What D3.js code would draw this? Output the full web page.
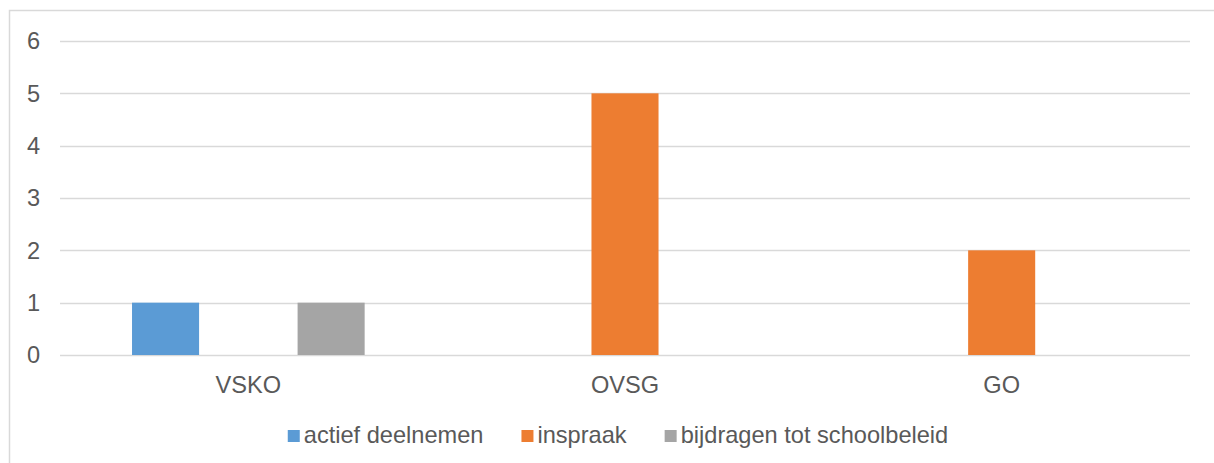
<!DOCTYPE html>
<html lang="nl">
<head>
    <meta charset="UTF-8">
    <title>Chart</title>
    <style>
        body {
            margin: 0;
            padding: 0;
            overflow: hidden;
            background: #fff;
        }

        text {
            font-family: "Liberation Sans", Arial, sans-serif;
            fill: #595959;
        }
    </style>
</head>
<body>
<svg id="chart" width="1214" height="463"></svg>
<script src="https://cdn.jsdelivr.net/npm/d3@7"></script>
<script>
    // data
    const categories = ["VSKO", "OVSG", "GO"];
    const seriesNames = ["actief deelnemen", "inspraak", "bijdragen tot schoolbeleid"];
    const actiefDeelnemen = [1, 0, 0];
    const inspraak = [0, 5, 2];
    const bijdragen = [1, 0, 0];
    const yTicks = [0, 1, 2, 3, 4, 5, 6];
    const colors = ["#5B9BD5", "#ED7D31", "#A5A5A5"];

    const values = [actiefDeelnemen, inspraak, bijdragen];
    const w = 1214, h = 463;
    const fontSize = 23.6;

    const svg = d3.select("#chart");

    // chart border (only left and top are visible in the window)
    svg.append("rect")
        .attr("x", 9.5)
        .attr("y", 10.5)
        .attr("width", w + 20)
        .attr("height", h + 20)
        .attr("fill", "none")
        .attr("stroke", "#d9d9d9")
        .attr("stroke-width", 1.5);

    const x0 = d3.scaleBand()
        .domain(categories)
        .range([60, 1190])
        .padding(0);

    const x1 = d3.scaleBand()
        .domain(d3.range(seriesNames.length))
        .range([0, x0.bandwidth()])
        .paddingInner(0.19)
        .paddingOuter(0.87);

    const y = d3.scaleLinear()
        .domain([0, 6])
        .range([355, 41]);

    // gridlines
    svg.append("g")
        .selectAll("line")
        .data(yTicks)
        .enter()
        .append("line")
        .attr("x1", 60)
        .attr("x2", 1190)
        .attr("y1", d => Math.round(y(d)) + 0.5)
        .attr("y2", d => Math.round(y(d)) + 0.5)
        .attr("stroke", "#d9d9d9")
        .attr("stroke-width", 1.5);

    // y tick labels
    svg.append("g")
        .selectAll("text")
        .data(yTicks)
        .enter()
        .append("text")
        .attr("x", 40)
        .attr("y", d => y(d))
        .attr("dy", "0.36em")
        .attr("text-anchor", "end")
        .style("font-size", fontSize + "px")
        .text(d => d);

    // bars
    const bars = [];
    categories.forEach((c, i) => {
        values.forEach((s, j) => {
            if (s[i] > 0) bars.push({cat: c, series: j, value: s[i]});
        });
    });

    svg.append("g")
        .selectAll("rect")
        .data(bars)
        .enter()
        .append("rect")
        .attr("x", d => x0(d.cat) + x1(d.series))
        .attr("y", d => y(d.value))
        .attr("width", x1.bandwidth())
        .attr("height", d => y(0) - y(d.value))
        .attr("fill", d => colors[d.series]);

    // category labels
    svg.append("g")
        .selectAll("text")
        .data(categories)
        .enter()
        .append("text")
        .attr("x", d => x0(d) + x0.bandwidth() / 2)
        .attr("y", 393)
        .attr("text-anchor", "middle")
        .style("font-size", fontSize + "px")
        .text(d => d);

    // legend
    const legend = svg.append("g");
    const items = legend.selectAll("g")
        .data(seriesNames)
        .enter()
        .append("g");
    items.append("rect")
        .attr("width", 12)
        .attr("height", 12)
        .attr("y", 430)
        .attr("fill", (d, i) => colors[i]);
    items.append("text")
        .attr("x", 16)
        .attr("y", 443)
        .style("font-size", fontSize + "px")
        .text(d => d);

    let off = 0;
    const gap = 38;
    items.each(function () {
        const g = d3.select(this);
        g.attr("transform", `translate(${off},0)`);
        off += 16 + g.select("text").node().getComputedTextLength() + gap;
    });
    const total = off - gap;
    legend.attr("transform", `translate(${618 - total / 2},0)`);
</script>
</body>
</html>
